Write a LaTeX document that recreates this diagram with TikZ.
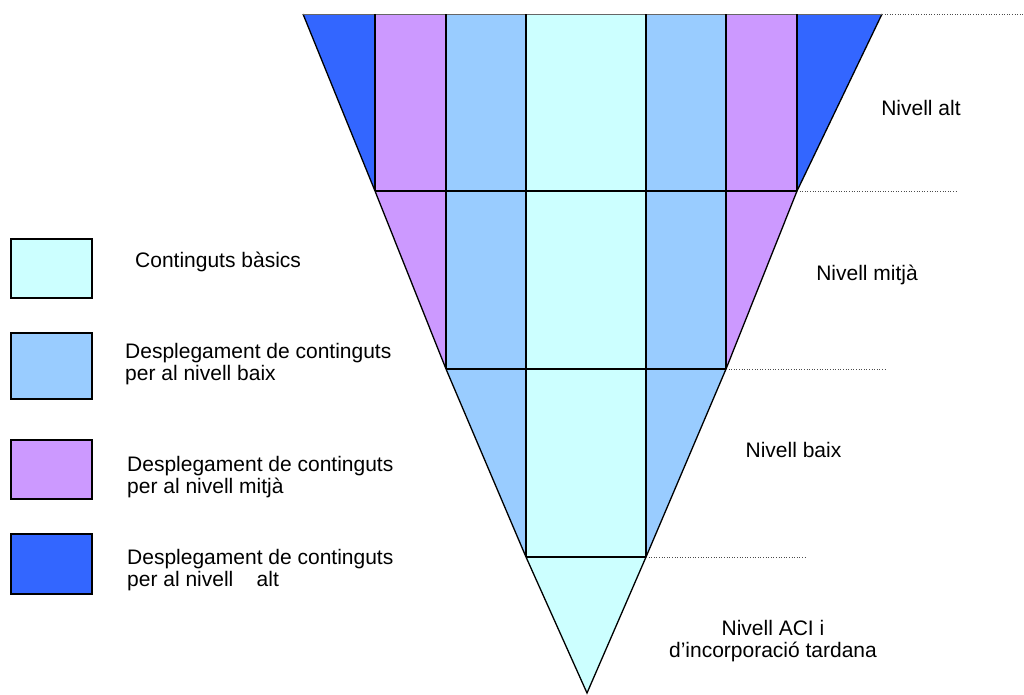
\documentclass[tikz,border=0pt]{standalone}
\usepackage{fontspec}
\setmainfont{Liberation Sans}
\usetikzlibrary{calc}
\definecolor{deepblue}{HTML}{3366FF}
\definecolor{lilac}{HTML}{CC99FF}
\definecolor{skyblue}{HTML}{99CCFF}
\definecolor{palecyan}{HTML}{CCFFFF}
\tikzset{
  every node/.style={font=\fontsize{21}{22}\selectfont, text=black},
  edge/.style={draw=black, line width=1.3pt, line join=miter},
  guide/.style={draw=black!70, line width=0.6pt, dotted},
  keybox/.style={draw=black, line width=1.3pt, minimum width=81pt, inner sep=0pt},
  keytxt/.style={anchor=west, align=left, inner sep=0pt},
  lvltxt/.style={align=center, inner sep=0pt},
}

\begin{document}
\begin{tikzpicture}[x=1pt, y=-1pt]
\useasboundingbox (0,0) rectangle (1024,694);

% --- outline of the funnel ---
\coordinate (L0) at (303,14);
\coordinate (L1) at (375,191);
\coordinate (L2) at (446,369);
\coordinate (L3) at (526,557);
\coordinate (apex) at (587,693);
\coordinate (R0) at (882,14);
\coordinate (R1) at (797,191);
\coordinate (R2) at (726,369);
\coordinate (R3) at (646,557);

% --- fills ---
\fill[palecyan] (L0) -- (L1) -- (L2) -- (L3) -- (apex) -- (R3) -- (R2) -- (R1) -- (R0) -- cycle;
\fill[skyblue] (L2 |- L0) -- (L3 |- L0) -- (L3) -- (L2) -- cycle;
\fill[skyblue] (R3 |- R0) -- (R2 |- R0) -- (R2) -- (R3) -- cycle;
\fill[lilac] (L1 |- L0) -- (L2 |- L0) -- (L2) -- (L1) -- cycle;
\fill[lilac] (R2 |- R0) -- (R1 |- R0) -- (R1) -- (R2) -- cycle;
\fill[deepblue] (L0) -- (L1 |- L0) -- (L1) -- cycle;
\fill[deepblue] (R1 |- R0) -- (R0) -- (R1) -- cycle;

% --- grid lines ---
\draw[edge] (L0) -- (L1) -- (L2) -- (L3) -- (apex) -- (R3) -- (R2) -- (R1) -- (R0);
\draw[edge, draw=black!60, line width=1pt] (L0) -- (R0);
\draw[edge] (L1) -- (R1);
\draw[edge] (L2) -- (R2);
\draw[edge] (L3) -- (R3);
\draw[edge] (L1 |- L0) -- (L1);
\draw[edge] (L2 |- L0) -- (L2);
\draw[edge] (L3 |- L0) -- (L3);
\draw[edge] (R3 |- R0) -- (R3);
\draw[edge] (R2 |- R0) -- (R2);
\draw[edge] (R1 |- R0) -- (R1);

% --- dotted level guides ---
\coordinate (g0) at (1024,14);
\coordinate (g1) at (958,191);
\coordinate (g2) at (886,369);
\coordinate (g3) at (806,557);
\draw[guide] (R0) -- (g0);
\draw[guide] (R1) -- (g1);
\draw[guide] (R2) -- (g2);
\draw[guide] (R3) -- (g3);

% --- level labels ---
\node[lvltxt] (alt) at (921,107.5) {Nivell alt};
\node[lvltxt] (mitja) at (867,274.5) {Nivell mitjà};
\node[lvltxt] (baix) at (793.5,450) {Nivell baix};
\node[lvltxt] (aci) at (773,641.5) {Nivell ACI i\\d’incorporació tardana};

% --- legend ---
\node[keybox, fill=palecyan, minimum height=59pt] (key1) at (51.5,268.5) {};
\node[keybox, fill=skyblue, minimum height=66pt] (key2) at (51.5,366) {};
\node[keybox, fill=lilac, minimum height=59pt] (key3) at (51.5,469.5) {};
\node[keybox, fill=deepblue, minimum height=60pt] (key4) at (51.5,564) {};

\node[keytxt] (txt1) at (135,262) {Continguts bàsics};
\node[keytxt] (txt2) at (125,364.5) {Desplegament de continguts\\per al nivell baix};
\node[keytxt] (txt3) at (127,477.5) {Desplegament de continguts\\per al nivell mitjà};
\node[keytxt] (txt4) at (127,570.5) {Desplegament de continguts\\per al nivell\ \ \ \ alt};

\end{tikzpicture}
\end{document}
